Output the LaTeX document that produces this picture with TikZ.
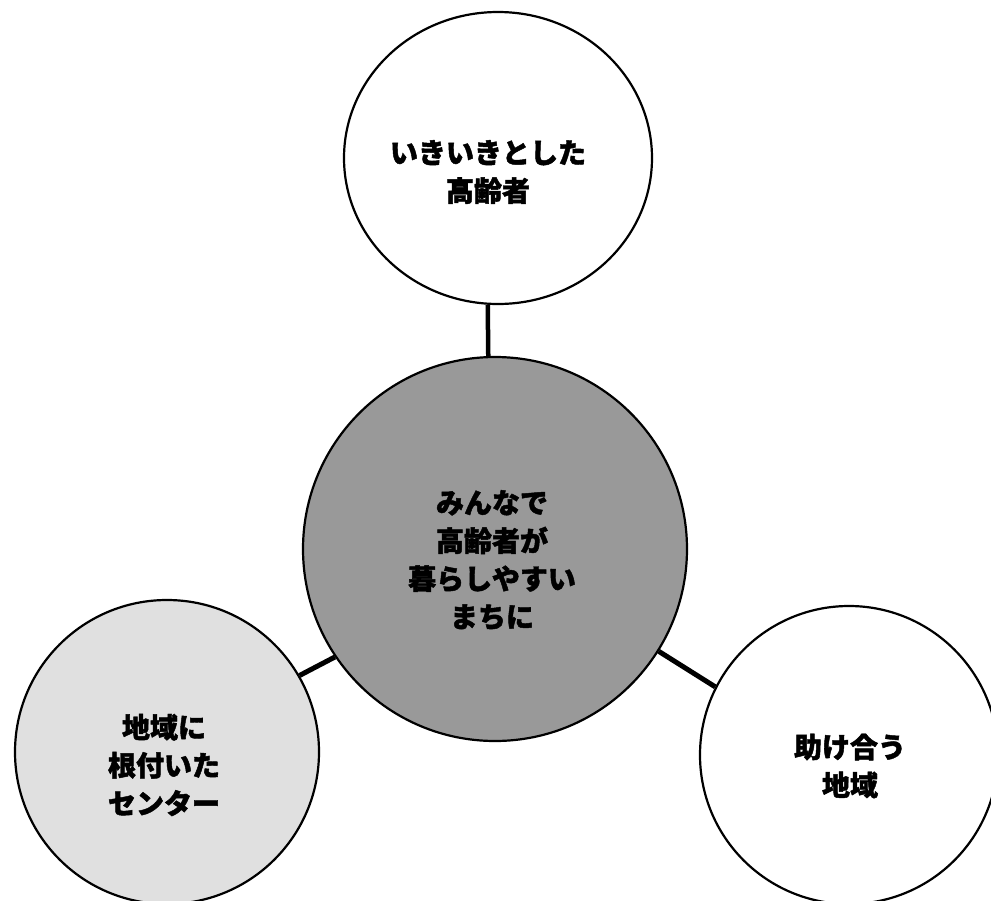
\documentclass[tikz,border=0pt]{standalone}
\usepackage{fontspec}
\newfontfamily\jp[BoldFeatures={FakeBold=1.6}]{Noto Sans CJK JP}
\usetikzlibrary{shapes.geometric}
\begin{document}
\begin{tikzpicture}[x=1pt,y=-1pt,
  bubble/.style={circle,draw=black,line width=2.2pt,inner sep=0pt},
  conn/.style={draw=black,line width=5pt},
  lbl/.style={font=\jp\bfseries\fontsize{28pt}{38pt}\selectfont,align=center,inner sep=0pt,text=black}]
\useasboundingbox[fill=white] (0,0) rectangle (991,900);
\node[ellipse,draw=black,line width=2.2pt,inner sep=0pt,fill=white,minimum width=308pt,minimum height=292pt] (top) at (498,158) {};
\node[bubble,fill=black!40,minimum size=384pt] (ctr) at (495,549) {};
\node[bubble,fill=black!12,minimum size=304pt] (left) at (167,752) {};
\node[bubble,fill=white,minimum size=298pt] (right) at (849,755) {};
\draw[conn,line width=4.5pt] (ctr.92) -- (top.266);
\draw[conn] (left.30) -- (ctr.214);
\draw[conn] (ctr.328) -- (right.153);
\node[lbl] (ttop) at (488,172) {いきいきとした\\高齢者};
\node[lbl] (tctr) at (492,560) {みんなで\\高齢者が\\暮らしやすい\\まちに};
\node[lbl] (tleft) at (164,765) {地域に\\根付いた\\センター};
\node[lbl] (tright) at (850,766) {助け合う\\地域};
\end{tikzpicture}
\end{document}
